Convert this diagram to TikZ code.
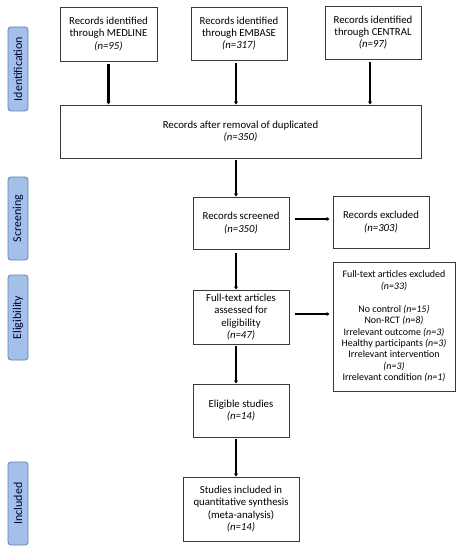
\documentclass[tikz,border=0pt]{standalone}
\usepackage{fontspec}
\setmainfont{Carlito}
\usetikzlibrary{arrows.meta}
\definecolor{sidefill}{HTML}{A3C1E8}
\definecolor{sidedraw}{HTML}{5F80B0}
\definecolor{boxdraw}{HTML}{3A3A3A}
\begin{document}
\begin{tikzpicture}[x=1bp,y=-1bp,
  flowbox/.style={draw=boxdraw,line width=0.9bp,fill=white,align=center,inner sep=2bp,
    font=\fontsize{10.8}{12.5}\selectfont},
  sidelabel/.style={draw=sidedraw,fill=sidefill,line width=0.8bp,rounded corners=3bp,
    inner sep=0pt,rotate=90,font=\fontsize{12}{13}\selectfont,text=black!80!blue},
  flowarrow/.style={line width=2.3bp,-{Latex[length=3bp,width=4.5bp]},black}]
\useasboundingbox (0,0) rectangle (464,550);
\fill[white] (0,0) rectangle (464,550);
% side labels
\node[sidelabel,minimum width=84bp,minimum height=20bp] (sid) at (18,69) {Identification};
\node[sidelabel,minimum width=83bp,minimum height=20bp] (sscr) at (18,218.5) {Screening};
\node[sidelabel,minimum width=85bp,minimum height=20bp] (selig) at (18,317.5) {Eligibility};
\node[sidelabel,minimum width=83bp,minimum height=20bp] (sinc) at (18,503.5) {Included};
% boxes
\node[flowbox,minimum width=97bp,minimum height=54bp] (med) at (108.5,34) {Records identified\\through MEDLINE\\\textit{(n=95)}};
\node[flowbox,minimum width=96bp,minimum height=53bp] (emb) at (239,33.5) {Records identified\\through EMBASE\\\textit{(n=317)}};
\node[flowbox,minimum width=96bp,minimum height=53bp] (cen) at (373,32.5) {Records identified\\through CENTRAL\\\textit{(n=97)}};
\node[flowbox,minimum width=361bp,minimum height=53bp] (dup) at (240.5,131.5) {Records after removal of duplicated\\\textit{(n=350)}};
\node[flowbox,minimum width=96bp,minimum height=52bp] (scr) at (241,223) {Records screened\\\textit{(n=350)}};
\node[flowbox,minimum width=96bp,minimum height=52bp] (exc) at (381,222) {Records excluded\\\textit{(n=303)}};
\node[flowbox,minimum width=96bp,minimum height=54bp] (ft) at (241,317) {Full-text articles\\assessed for\\eligibility\\\textit{(n=47)}};
\node[flowbox,minimum width=122bp,minimum height=129bp,font=\fontsize{10}{11.5}\selectfont] (ftx) at (394,326.5) {Full-text articles excluded\\\textit{(n=33)}\\[11.5bp]No control \textit{(n=15)}\\Non-RCT \textit{(n=8)}\\Irrelevant outcome \textit{(n=3)}\\Healthy participants \textit{(n=3)}\\Irrelevant intervention\\\textit{(n=3)}\\Irrelevant condition \textit{(n=1)}};
\node[flowbox,minimum width=96bp,minimum height=53bp] (elig) at (241,410.5) {Eligible studies\\\textit{(n=14)}};
\node[flowbox,minimum width=116bp,minimum height=64bp] (inc) at (241,509) {Studies included in\\quantitative synthesis\\(meta-analysis)\\\textit{(n=14)}};
% arrows
\draw[flowarrow] ([yshift=-3bp]med.south) -- (med.south |- dup.north);
\draw[flowarrow] ([xshift=-3bp,yshift=-3bp]emb.south) -- ([xshift=-3bp]emb.south |- dup.north);
\draw[flowarrow] ([xshift=-3bp,yshift=-3bp]cen.south) -- ([xshift=-3bp]cen.south |- dup.north);
\draw[flowarrow] ([xshift=-4.5bp,yshift=-2bp]dup.south) -- ([xshift=-5bp]scr.north);
\draw[flowarrow] ([xshift=6bp,yshift=4bp]scr.east) -- ([xshift=-3bp,yshift=4bp]scr.east -| exc.west);
\draw[flowarrow] ([xshift=-5bp,yshift=-4bp]scr.south) -- ([xshift=-5bp]ft.north);
\draw[flowarrow] ([xshift=6bp,yshift=3bp]ft.east) -- ([xshift=-3bp,yshift=3bp]ft.east -| ftx.west);
\draw[flowarrow] ([xshift=-5bp,yshift=-2bp]ft.south) -- ([xshift=-5bp]elig.north);
\draw[flowarrow] ([xshift=-5bp,yshift=-2bp]elig.south) -- ([xshift=-5bp]inc.north);
\end{tikzpicture}
\end{document}
